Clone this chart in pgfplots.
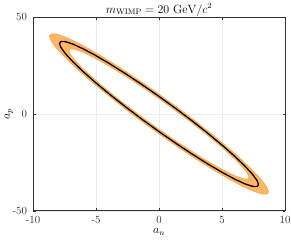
\documentclass[border=0pt]{standalone}
\usepackage{pgfplots}
\pgfplotsset{compat=1.18}
\definecolor{bandfill}{RGB}{255,182,100}
\definecolor{bandedge}{RGB}{245,160,65}
\begin{document}
\begin{tikzpicture}
\useasboundingbox (-33bp,-31.3bp) rectangle (258bp,210.7bp);
\begin{axis}[
 at={(0,0)}, anchor=south west,
 scale only axis, width=252bp, height=193.4bp,
 xmin=-10,xmax=10,ymin=-50,ymax=50,
 xtick={-10,-5,0,5,10}, xticklabels={-10,-5,0,5,10},
 ytick={-50,0,50}, yticklabels={-50,0,50},
 grid=major, major grid style={gray!15, line width=0.4pt},
 tick align=inside, major tick length=2.5bp,
 axis line style={black!80, line width=0.5pt},
 tick style={black!80},
 ticklabel style={font=\fontsize{11}{13}\selectfont, text=black!85},
 xticklabel style={anchor=base, yshift=-12.3bp},
 yticklabel style={anchor=east, xshift=-2.5bp},
 xlabel={$a_n$}, ylabel={$a_p$},
 label style={font=\fontsize{11.5}{13}\selectfont},
 xlabel style={at={(axis description cs:0.5,-0.1179)}, anchor=base, yshift=0pt},
 ylabel style={at={(axis description cs:-0.0952,0.5)}, anchor=center, xshift=0pt, yshift=0pt},
 title={$m_{\mathrm{WIMP}} = 20\ \mathrm{GeV}/c^2$},
 title style={font=\fontsize{12}{14}\selectfont, at={(axis description cs:0.5,1.0274)}, anchor=base, yshift=-7bp},
 no markers,
]
% band: outer ellipse then inner ellipse (reversed) -> hole
\addplot[draw=none, fill=bandfill] coordinates {
(8.7,-40.3) (8.568,-37.90) (8.175,-34.35) (7.534,-29.75) (6.664,-24.25) (5.592,-18.02) (4.35,-11.23) (2.975,-4.10) (1.510,3.15) (0,10.3) (-1.510,17.14) (-2.975,23.46) (-4.35,29.07) (-5.592,33.80) (-6.664,37.49) (-7.534,40.05) (-8.175,41.39) (-8.568,41.48) (-8.7,40.3) (-8.568,37.90) (-8.175,34.35) (-7.534,29.75) (-6.664,24.25) (-5.592,18.02) (-4.35,11.23) (-2.975,4.10) (-1.510,-3.15) (0,-10.3) (1.510,-17.14) (2.975,-23.46) (4.35,-29.07) (5.592,-33.80) (6.664,-37.49) (7.534,-40.05) (8.175,-41.39) (8.568,-41.48) (8.7,-40.3)
(7.15,-32.8) (7.041,-33.67) (6.719,-33.52) (6.192,-32.36) (5.477,-30.20) (4.596,-27.14) (3.575,-23.24) (2.445,-18.64) (1.241,-13.47) (0,-7.9) (-1.241,-2.09) (-2.445,3.79) (-3.575,9.56) (-4.596,15.03) (-5.477,20.05) (-6.192,24.46) (-6.719,28.12) (-7.041,30.93) (-7.15,32.8) (-7.041,33.67) (-6.719,33.52) (-6.192,32.36) (-5.477,30.20) (-4.596,27.14) (-3.575,23.24) (-2.445,18.64) (-1.241,13.47) (0,7.9) (1.241,2.09) (2.445,-3.79) (3.575,-9.56) (4.596,-15.03) (5.477,-20.05) (6.192,-24.46) (6.719,-28.12) (7.041,-30.93) (7.15,-32.8)
};
% band edges
\addplot[bandedge, line width=0.5pt, line join=round] coordinates {
(8.7,-40.3) (8.568,-37.90) (8.175,-34.35) (7.534,-29.75) (6.664,-24.25) (5.592,-18.02) (4.35,-11.23) (2.975,-4.10) (1.510,3.15) (0,10.3) (-1.510,17.14) (-2.975,23.46) (-4.35,29.07) (-5.592,33.80) (-6.664,37.49) (-7.534,40.05) (-8.175,41.39) (-8.568,41.48) (-8.7,40.3) (-8.568,37.90) (-8.175,34.35) (-7.534,29.75) (-6.664,24.25) (-5.592,18.02) (-4.35,11.23) (-2.975,4.10) (-1.510,-3.15) (0,-10.3) (1.510,-17.14) (2.975,-23.46) (4.35,-29.07) (5.592,-33.80) (6.664,-37.49) (7.534,-40.05) (8.175,-41.39) (8.568,-41.48) (8.7,-40.3)
};
\addplot[bandedge, line width=0.5pt, line join=round] coordinates {
(7.15,-32.8) (7.041,-30.93) (6.719,-28.12) (6.192,-24.46) (5.477,-20.05) (4.596,-15.03) (3.575,-9.56) (2.445,-3.79) (1.241,2.09) (0,7.9) (-1.241,13.47) (-2.445,18.64) (-3.575,23.24) (-4.596,27.14) (-5.477,30.20) (-6.192,32.36) (-6.719,33.52) (-7.041,33.67) (-7.15,32.8) (-7.041,30.93) (-6.719,28.12) (-6.192,24.46) (-5.477,20.05) (-4.596,15.03) (-3.575,9.56) (-2.445,3.79) (-1.241,-2.09) (0,-7.9) (1.241,-13.47) (2.445,-18.64) (3.575,-23.24) (4.596,-27.14) (5.477,-30.20) (6.192,-32.36) (6.719,-33.52) (7.041,-33.67) (7.15,-32.8)
};
% best-fit contour
\addplot[black, line width=1.3pt, line join=round] coordinates {
(7.9,-36.5) (7.780,-34.37) (7.424,-31.19) (6.841,-27.06) (6.051,-22.11) (5.078,-16.49) (3.95,-10.37) (2.702,-3.93) (1.371,2.63) (0,9.1) (-1.371,15.30) (-2.702,21.03) (-3.95,26.13) (-5.078,30.43) (-6.051,33.81) (-6.841,36.16) (-7.424,37.41) (-7.780,37.53) (-7.9,36.5) (-7.780,34.37) (-7.424,31.19) (-6.841,27.06) (-6.051,22.11) (-5.078,16.49) (-3.95,10.37) (-2.702,3.93) (-1.371,-2.63) (0,-9.1) (1.371,-15.30) (2.702,-21.03) (3.95,-26.13) (5.078,-30.43) (6.051,-33.81) (6.841,-36.16) (7.424,-37.41) (7.780,-37.53) (7.9,-36.5)
};
\end{axis}
\end{tikzpicture}
\end{document}
